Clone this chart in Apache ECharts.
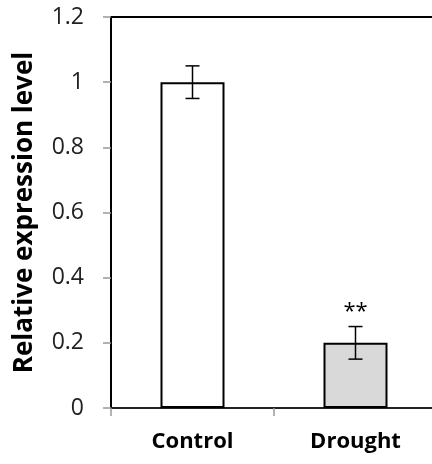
<!DOCTYPE html>
<html>
<head>
<meta charset="utf-8">
<script src="https://cdn.jsdelivr.net/npm/echarts@6/dist/echarts.min.js"></script>
<style>html,body{margin:0;padding:0;background:#fff}#c{width:432px;height:464px}</style>
</head>
<body>
<div id="c"></div>
<script>
const categories = ['Control', 'Drought'];
const values = [1.0, 0.2];
const errors = [0.05, 0.05];
const significance = ['', '**'];
const barColors = ['#ffffff', '#d9d9d9'];
const yTicks = [0, 0.2, 0.4, 0.6, 0.8, 1, 1.2];

const chart = echarts.init(document.getElementById('c'), null, {renderer: 'canvas'});
const FONT = '"Open Sans", "DejaVu Sans", sans-serif';

chart.setOption({
  animation: false,
  backgroundColor: '#fff',
  grid: {left: 111, top: 17, bottom: 56, width: 326, outerBoundsMode: 'none', containLabel: false,
         show: true, borderColor: '#000', borderWidth: 2, backgroundColor: 'transparent'},
  xAxis: {
    type: 'category',
    data: categories,
    axisLine: {lineStyle: {color: '#222', width: 2}},
    axisTick: {show: true, inside: false, length: 8, lineStyle: {color: '#999', width: 1.5}},
    axisLabel: {fontFamily: FONT, fontWeight: 'bold', fontSize: 22, color: '#000', margin: 23}
  },
  yAxis: {
    type: 'value',
    min: 0, max: 1.2, interval: 0.2,
    name: 'Relative expression level',
    nameLocation: 'middle',
    nameGap: 73,
    nameTextStyle: {fontFamily: FONT, fontWeight: 'bold', fontSize: 26, color: '#000'},
    splitLine: {show: false},
    axisLine: {show: true, lineStyle: {color: '#000', width: 2}},
    axisTick: {show: true, length: 8, lineStyle: {color: '#999', width: 1.5}},
    axisLabel: {fontFamily: FONT, fontSize: 23, color: '#222', margin: 27,
      formatter: v => { const t = yTicks.find(x => Math.abs(x - v) < 1e-9); return t === undefined ? '' : String(t); }}
  },
  series: [
    {
      type: 'bar',
      barWidth: 64,
      data: values.map((v, i) => ({value: v, itemStyle: {color: barColors[i], borderColor: '#000', borderWidth: 2}}))
    },
    {
      type: 'custom',
      data: values.map((v, i) => [i, v, errors[i]]),
      renderItem: function (params, api) {
        const x = api.value(0), y = api.value(1), e = api.value(2);
        const hi = api.coord([x, y + e]);
        const lo = api.coord([x, y - e]);
        const hw = 7;
        const style = {stroke: '#000', lineWidth: 1.5, fill: null};
        const children = [
          {type: 'line', shape: {x1: hi[0], y1: hi[1], x2: lo[0], y2: lo[1]}, style: style},
          {type: 'line', shape: {x1: hi[0] - hw, y1: hi[1], x2: hi[0] + hw, y2: hi[1]}, style: style},
          {type: 'line', shape: {x1: lo[0] - hw, y1: lo[1], x2: lo[0] + hw, y2: lo[1]}, style: style}
        ];
        const sig = significance[params.dataIndex];
        if (sig) {
          children.push({type: 'text', style: {text: sig, x: hi[0], y: hi[1] - 4, align: 'center', verticalAlign: 'bottom', font: '22px ' + FONT, fill: '#000'}});
        }
        return {type: 'group', children: children};
      },
      z: 5
    }
  ]
});
</script>
</body>
</html>
